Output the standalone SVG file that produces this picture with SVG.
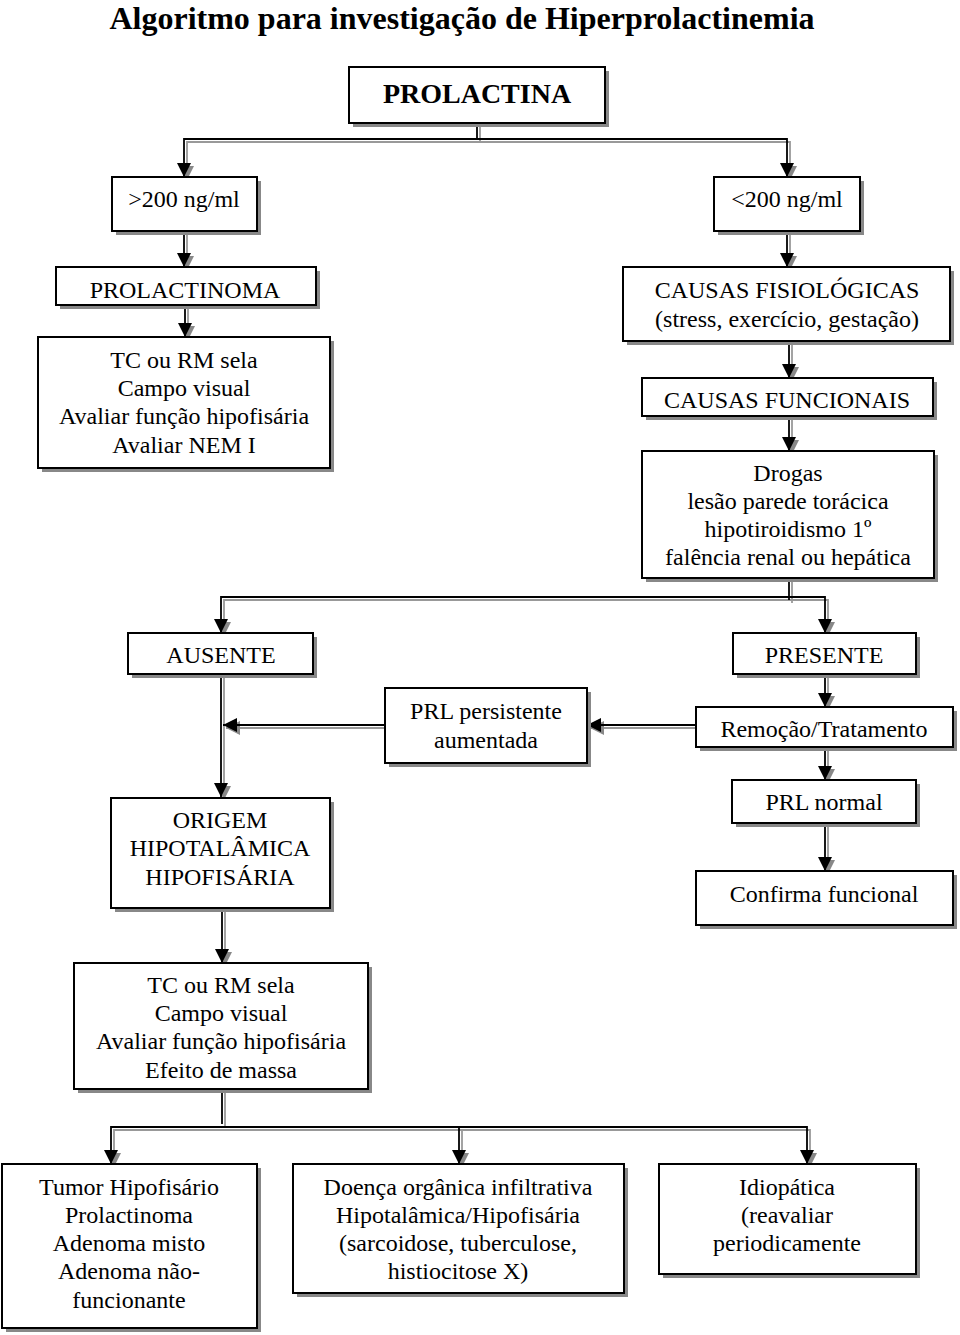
<svg xmlns="http://www.w3.org/2000/svg" width="960" height="1335" viewBox="0 0 960 1335">
<defs>
<style>
.box{fill:#fff;stroke:#000;stroke-width:2}
.sh{fill:#888;stroke:none}
.t{font-family:"Liberation Serif","Times New Roman",serif;font-size:24px;fill:#000;text-anchor:middle}
.title{font-family:"Liberation Serif","Times New Roman",serif;font-size:32px;font-weight:bold;fill:#000;text-anchor:middle}
.cb{fill:none;stroke:#000;stroke-width:1.8}
.cg{fill:none;stroke:#999;stroke-width:1.8}
</style>
<marker id="ab" markerUnits="userSpaceOnUse" markerWidth="14" markerHeight="16" viewBox="0 0 14 16" refX="14" refY="7" orient="auto">
<path d="M0,0 L14,7 L0,14 Z" fill="#000"/>
</marker>
<marker id="ag" markerUnits="userSpaceOnUse" markerWidth="14" markerHeight="16" viewBox="0 0 14 16" refX="14" refY="7" orient="auto">
<path d="M0,0 L14,7 L0,14 Z" fill="#888"/>
</marker>
</defs>
<rect width="960" height="1335" fill="#fff"/>
<text class="title" x="462" y="29">Algoritmo para investigação de Hiperprolactinemia</text>

<g id="connectors">
<g transform="translate(3,3)">
<path class="cg" d="M477,123 V139"/>
<path class="cg" d="M477,139 H184 V177" marker-end="url(#ag)"/>
<path class="cg" d="M477,139 H787 V177" marker-end="url(#ag)"/>
<path class="cg" d="M184,231 V267" marker-end="url(#ag)"/>
<path class="cg" d="M185,305 V337" marker-end="url(#ag)"/>
<path class="cg" d="M787,231 V267" marker-end="url(#ag)"/>
<path class="cg" d="M789,341 V378" marker-end="url(#ag)"/>
<path class="cg" d="M789,416 V451" marker-end="url(#ag)"/>
<path class="cg" d="M789,578 V600"/>
<path class="cg" d="M789,597 H221 V633" marker-end="url(#ag)"/>
<path class="cg" d="M789,597 H825 V633" marker-end="url(#ag)"/>
<path class="cg" d="M221,674 V797" marker-end="url(#ag)"/>
<path class="cg" d="M825,674 V707" marker-end="url(#ag)"/>
<path class="cg" d="M696,725 H587" marker-end="url(#ag)"/>
<path class="cg" d="M385,725 H223" marker-end="url(#ag)"/>
<path class="cg" d="M825,747 V780" marker-end="url(#ag)"/>
<path class="cg" d="M825,823 V871" marker-end="url(#ag)"/>
<path class="cg" d="M222,908 V963" marker-end="url(#ag)"/>
<path class="cg" d="M222,1089 V1124"/>
<path class="cg" d="M222,1127 H111 V1164" marker-end="url(#ag)"/>
<path class="cg" d="M222,1127 H807 V1164" marker-end="url(#ag)"/>
<path class="cg" d="M459,1127 V1164" marker-end="url(#ag)"/>
</g>
<g>
<path class="cb" d="M477,123 V139"/>
<path class="cb" d="M477,139 H184 V177" marker-end="url(#ab)"/>
<path class="cb" d="M477,139 H787 V177" marker-end="url(#ab)"/>
<path class="cb" d="M184,231 V267" marker-end="url(#ab)"/>
<path class="cb" d="M185,305 V337" marker-end="url(#ab)"/>
<path class="cb" d="M787,231 V267" marker-end="url(#ab)"/>
<path class="cb" d="M789,341 V378" marker-end="url(#ab)"/>
<path class="cb" d="M789,416 V451" marker-end="url(#ab)"/>
<path class="cb" d="M789,578 V600"/>
<path class="cb" d="M789,597 H221 V633" marker-end="url(#ab)"/>
<path class="cb" d="M789,597 H825 V633" marker-end="url(#ab)"/>
<path class="cb" d="M221,674 V797" marker-end="url(#ab)"/>
<path class="cb" d="M825,674 V707" marker-end="url(#ab)"/>
<path class="cb" d="M696,725 H587" marker-end="url(#ab)"/>
<path class="cb" d="M385,725 H223" marker-end="url(#ab)"/>
<path class="cb" d="M825,747 V780" marker-end="url(#ab)"/>
<path class="cb" d="M825,823 V871" marker-end="url(#ab)"/>
<path class="cb" d="M222,908 V963" marker-end="url(#ab)"/>
<path class="cb" d="M222,1089 V1124"/>
<path class="cb" d="M222,1127 H111 V1164" marker-end="url(#ab)"/>
<path class="cb" d="M222,1127 H807 V1164" marker-end="url(#ab)"/>
<path class="cb" d="M459,1127 V1164" marker-end="url(#ab)"/>
</g>
</g>

<g id="prolactina">
<rect class="sh" x="353" y="71" width="256" height="56"/>
<rect class="box" x="349" y="67" width="256" height="56"/>
<text class="t" x="477" y="103" style="font-weight:bold;font-size:28px">PROLACTINA</text>
</g>
<g id="maior200">
<rect class="sh" x="116" y="181" width="145" height="54"/>
<rect class="box" x="112" y="177" width="145" height="54"/>
<text class="t" x="184" y="207">&gt;200 ng/ml</text>
</g>
<g id="menor200">
<rect class="sh" x="718" y="181" width="146" height="54"/>
<rect class="box" x="714" y="177" width="146" height="54"/>
<text class="t" x="787" y="207">&lt;200 ng/ml</text>
</g>
<g id="prolactinoma">
<rect class="sh" x="60" y="271" width="260" height="38"/>
<rect class="box" x="56" y="267" width="260" height="38"/>
<text class="t" x="185" y="298">PROLACTINOMA</text>
</g>
<g id="tc1">
<rect class="sh" x="42" y="341" width="292" height="131"/>
<rect class="box" x="38" y="337" width="292" height="131"/>
<text class="t" x="184" y="368">TC ou RM sela</text>
<text class="t" x="184" y="396">Campo visual</text>
<text class="t" x="184" y="424">Avaliar função hipofisária</text>
<text class="t" x="184" y="453">Avaliar NEM I</text>
</g>
<g id="fisiologicas">
<rect class="sh" x="627" y="271" width="327" height="74"/>
<rect class="box" x="623" y="267" width="327" height="74"/>
<text class="t" x="787" y="298">CAUSAS FISIOLÓGICAS</text>
<text class="t" x="787" y="327">(stress, exercício, gestação)</text>
</g>
<g id="funcionais">
<rect class="sh" x="646" y="382" width="291" height="38"/>
<rect class="box" x="642" y="378" width="291" height="38"/>
<text class="t" x="787" y="408">CAUSAS FUNCIONAIS</text>
</g>
<g id="drogas">
<rect class="sh" x="646" y="455" width="292" height="127"/>
<rect class="box" x="642" y="451" width="292" height="127"/>
<text class="t" x="788" y="481">Drogas</text>
<text class="t" x="788" y="509">lesão parede torácica</text>
<text class="t" x="788" y="537">hipotiroidismo 1º</text>
<text class="t" x="788" y="565">falência renal ou hepática</text>
</g>
<g id="ausente">
<rect class="sh" x="132" y="637" width="185" height="41"/>
<rect class="box" x="128" y="633" width="185" height="41"/>
<text class="t" x="221" y="663">AUSENTE</text>
</g>
<g id="presente">
<rect class="sh" x="737" y="637" width="183" height="41"/>
<rect class="box" x="733" y="633" width="183" height="41"/>
<text class="t" x="824" y="663">PRESENTE</text>
</g>
<g id="prlpersistente">
<rect class="sh" x="389" y="692" width="202" height="75"/>
<rect class="box" x="385" y="688" width="202" height="75"/>
<text class="t" x="486" y="719">PRL persistente</text>
<text class="t" x="486" y="748">aumentada</text>
</g>
<g id="remocao">
<rect class="sh" x="700" y="711" width="257" height="40"/>
<rect class="box" x="696" y="707" width="257" height="40"/>
<text class="t" x="824" y="737">Remoção/Tratamento</text>
</g>
<g id="origem">
<rect class="sh" x="115" y="802" width="219" height="110"/>
<rect class="box" x="111" y="798" width="219" height="110"/>
<text class="t" x="220" y="828">ORIGEM</text>
<text class="t" x="220" y="856">HIPOTALÂMICA</text>
<text class="t" x="220" y="885">HIPOFISÁRIA</text>
</g>
<g id="prlnormal">
<rect class="sh" x="736" y="784" width="184" height="43"/>
<rect class="box" x="732" y="780" width="184" height="43"/>
<text class="t" x="824" y="810">PRL normal</text>
</g>
<g id="confirma">
<rect class="sh" x="700" y="875" width="257" height="54"/>
<rect class="box" x="696" y="871" width="257" height="54"/>
<text class="t" x="824" y="902">Confirma funcional</text>
</g>
<g id="tc2">
<rect class="sh" x="78" y="967" width="294" height="126"/>
<rect class="box" x="74" y="963" width="294" height="126"/>
<text class="t" x="221" y="993">TC ou RM sela</text>
<text class="t" x="221" y="1021">Campo visual</text>
<text class="t" x="221" y="1049">Avaliar função hipofisária</text>
<text class="t" x="221" y="1078">Efeito de massa</text>
</g>
<g id="tumor">
<rect class="sh" x="6" y="1168" width="255" height="164"/>
<rect class="box" x="2" y="1164" width="255" height="164"/>
<text class="t" x="129" y="1195">Tumor Hipofisário</text>
<text class="t" x="129" y="1223">Prolactinoma</text>
<text class="t" x="129" y="1251">Adenoma misto</text>
<text class="t" x="129" y="1279">Adenoma não-</text>
<text class="t" x="129" y="1308">funcionante</text>
</g>
<g id="doenca">
<rect class="sh" x="297" y="1168" width="331" height="129"/>
<rect class="box" x="293" y="1164" width="331" height="129"/>
<text class="t" x="458" y="1195">Doença orgânica infiltrativa</text>
<text class="t" x="458" y="1223">Hipotalâmica/Hipofisária</text>
<text class="t" x="458" y="1251">(sarcoidose, tuberculose,</text>
<text class="t" x="458" y="1279">histiocitose X)</text>
</g>
<g id="idiopatica">
<rect class="sh" x="663" y="1168" width="257" height="110"/>
<rect class="box" x="659" y="1164" width="257" height="110"/>
<text class="t" x="787" y="1195">Idiopática</text>
<text class="t" x="787" y="1223">(reavaliar</text>
<text class="t" x="787" y="1251">periodicamente</text>
</g>
</svg>
